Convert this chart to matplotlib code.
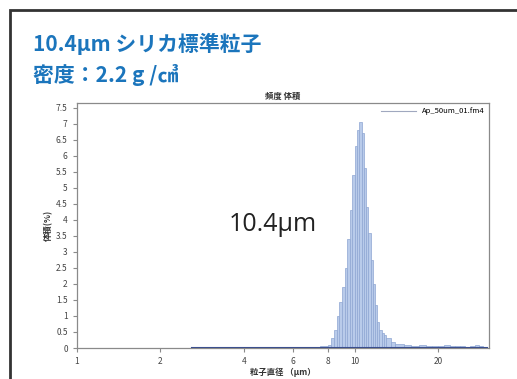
import matplotlib
matplotlib.use("Agg")
import matplotlib.pyplot as plt
from matplotlib.patches import Rectangle

plt.rcParams['font.family'] = ['Noto Sans CJK JP', 'DejaVu Sans']

# bin edges (um) and volume frequency (%)
edges = [2.6, 3.0, 3.5, 4.0, 4.5, 5.0, 5.5, 6.0, 6.5, 7.0, 7.5,
         8.0, 8.2, 8.4, 8.6, 8.8, 9.0, 9.2, 9.4, 9.6, 9.8, 10.0,
         10.2, 10.4, 10.6, 10.8, 11.0, 11.2, 11.4, 11.6, 11.8, 12.0,
         12.25, 12.5, 12.75, 13.0, 13.5, 14.0, 15.0, 16.0, 17.0, 18.0,
         19.0, 20.0, 21.0, 22.0, 23.0, 24.0, 25.0, 26.0, 27.0, 28.0,
         29.0, 30.0]
freq = [0.01, 0.01, 0.01, 0.01, 0.02, 0.04, 0.03, 0.04, 0.03, 0.04, 0.05,
        0.10, 0.30, 0.55, 1.00, 1.45, 1.90, 2.50, 3.40, 4.30, 5.40,
        6.30, 6.80, 7.05, 6.70, 5.60, 4.40, 3.60, 2.75, 2.00, 1.35,
        0.80, 0.55, 0.48, 0.42, 0.30, 0.20, 0.12, 0.08, 0.07, 0.09,
        0.06, 0.07, 0.05, 0.09, 0.06, 0.07, 0.05, 0.04, 0.05, 0.10,
        0.06, 0.03]

yticks = [0, 0.5, 1, 1.5, 2, 2.5, 3, 3.5, 4, 4.5, 5, 5.5, 6, 6.5, 7, 7.5]
xticks = [1, 2, 4, 6, 8, 10, 20]

title_blue = '#1b75bc'

fig = plt.figure(figsize=(5.17, 3.79), dpi=100)
W, H = 517, 379

# outer frame (only left and top edges show in the crop)
fig.patches.append(Rectangle((10 / W, -0.05), 1.0, (H - 10) / H + 0.05,
                             transform=fig.transFigure, fill=False,
                             edgecolor='#333333', linewidth=2.0))

fig.text(33 / W, 1 - 51 / H, '10.4µm シリカ標準粒子', color=title_blue,
         fontsize=15, fontweight='bold', va='baseline', ha='left')
fig.text(33 / W, 1 - 82 / H, '密度：2.2 g /㎤', color=title_blue,
         fontsize=15, fontweight='bold', va='baseline', ha='left')

ax = fig.add_axes([76.7 / W, 1 - 348 / H, (489 - 76.7) / W, (348 - 102.7) / H])

widths = [edges[i + 1] - edges[i] for i in range(len(freq))]
ax.bar(edges[:-1], freq, width=widths, align='edge', color='#b9cbea',
       edgecolor='#8ea6d2', linewidth=0.5)
ax.plot([edges[0], edges[-1]], [0, 0], color='#3b4f8e', linewidth=1.5,
        zorder=3)

ax.set_xscale('log')
ax.set_xlim(1, 30.4)
ax.set_ylim(0, 7.65)
ax.set_xticks(xticks)
ax.set_xticklabels([str(t) for t in xticks])
ax.minorticks_off()
ax.set_yticks(yticks)
ax.set_yticklabels(['%g' % t for t in yticks])

for s in ax.spines.values():
    s.set_color('#8a8a8a')
    s.set_linewidth(0.9)
ax.tick_params(axis='both', labelsize=6, colors='#8a8a8a', labelcolor='#444444',
               length=3, width=0.8)

ax.set_title('頻度 体積', fontsize=6, fontweight='bold', color='#333333', pad=3)
ax.set_xlabel('粒子直径 （μm）', fontsize=6, fontweight='bold', color='#333333',
              labelpad=1)
ax.set_ylabel('体積(%)', fontsize=6, fontweight='bold', color='#333333',
              labelpad=2)

# legend (sample line only)
h = ax.plot([], [], color='#a0a8bf', linewidth=0.8)[0]
ax.legend([h], ['Ap_50um_01.fm4'], loc='upper right', frameon=False,
          fontsize=5.5, handlelength=4.5, borderaxespad=0.2)

ax.text(0.475, 0.505, '10.4µm', transform=ax.transAxes, fontsize=18,
        color='#222222', family=['Open Sans', 'DejaVu Sans'],
        ha='center', va='center')

fig.savefig('out.png', dpi=100)
